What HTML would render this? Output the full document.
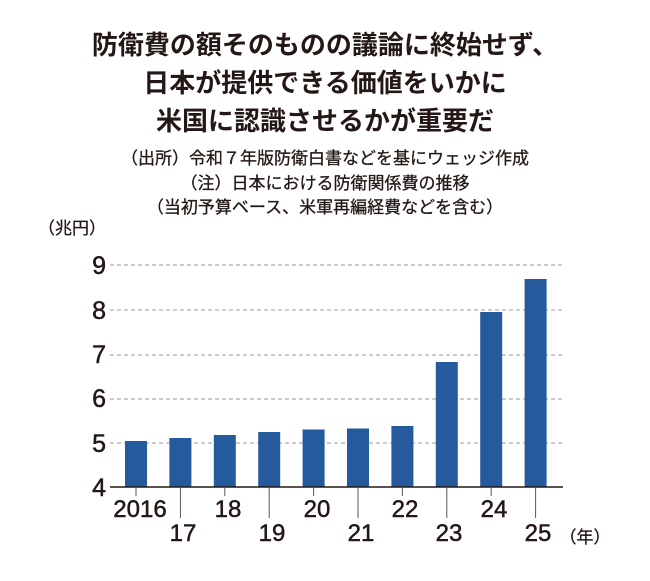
<!DOCTYPE html>
<html><head><meta charset="utf-8"><style>
body{margin:0;background:#fff;width:650px;height:576px;overflow:hidden;font-family:"Liberation Sans","Noto Sans CJK JP",sans-serif;color:#231815}
</style></head><body>
<svg width="650" height="576" xmlns="http://www.w3.org/2000/svg" style="font-family:'Liberation Sans','Noto Sans CJK JP',sans-serif">
<g fill="#231815" font-weight="bold" font-size="26" text-anchor="middle">
<text x="325" y="54">防衛費の額そのものの議論に終始せず、</text>
<text x="325" y="92">日本が提供できる価値をいかに</text>
<text x="325" y="130">米国に認識させるかが重要だ</text>
</g>
<g fill="#231815" font-size="17" text-anchor="middle" stroke="#231815" stroke-width="0.3">
<text x="325" y="164">（出所）令和７年版防衛白書などを基にウェッジ作成</text>
<text x="325" y="189">（注）日本における防衛関係費の推移</text>
<text x="325" y="213">（当初予算ベース、米軍再編経費などを含む）</text>
<text x="72" y="234">（兆円）</text>
<text x="585" y="543">（年）</text>
</g>
<g stroke="#999" stroke-dasharray="4,3" stroke-width="1">
<line x1="110" x2="562" y1="265" y2="265"/>
<line x1="110" x2="562" y1="310" y2="310"/>
<line x1="110" x2="562" y1="355" y2="355"/>
<line x1="110" x2="562" y1="399" y2="399"/>
<line x1="110" x2="562" y1="443" y2="443"/>
</g>
<g fill="#231815" font-size="25" text-anchor="end" stroke="#231815" stroke-width="0.5">
<text x="106" y="274">9</text><text x="106" y="319">8</text><text x="106" y="363">7</text>
<text x="106" y="407">6</text><text x="106" y="452">5</text><text x="106" y="496">4</text>
</g>
<g fill="#255a9c">
<rect x="125" y="441" width="22" height="46"/>
<rect x="169.4" y="438" width="22" height="49"/>
<rect x="213.8" y="435" width="22" height="52"/>
<rect x="258.2" y="432" width="22" height="55"/>
<rect x="302.6" y="429.5" width="22" height="57.5"/>
<rect x="347" y="428.5" width="22" height="58.5"/>
<rect x="391.4" y="426" width="22" height="61"/>
<rect x="435.8" y="362" width="22" height="125"/>
<rect x="480.2" y="312" width="22" height="175"/>
<rect x="524.6" y="279" width="22" height="208"/>
</g>
<line x1="110" x2="563" y1="487" y2="487" stroke="#231815" stroke-width="1.5"/>
<g stroke="#555" stroke-width="1">
<line x1="136" x2="136" y1="487" y2="496"/>
<line x1="180.4" x2="180.4" y1="487" y2="518"/>
<line x1="224.8" x2="224.8" y1="487" y2="496"/>
<line x1="269.2" x2="269.2" y1="487" y2="518"/>
<line x1="313.6" x2="313.6" y1="487" y2="496"/>
<line x1="358" x2="358" y1="487" y2="518"/>
<line x1="402.4" x2="402.4" y1="487" y2="496"/>
<line x1="446.8" x2="446.8" y1="487" y2="518"/>
<line x1="491.2" x2="491.2" y1="487" y2="496"/>
<line x1="535.6" x2="535.6" y1="487" y2="518"/>
</g>
<g fill="#231815" font-size="24" text-anchor="middle" stroke="#231815" stroke-width="0.5">
<text x="140" y="517">2016</text>
<text x="228" y="517">18</text>
<text x="317" y="517">20</text>
<text x="405" y="517">22</text>
<text x="494" y="517">24</text>
<text x="183" y="541">17</text>
<text x="272" y="541">19</text>
<text x="361" y="541">21</text>
<text x="449" y="541">23</text>
<text x="538" y="541">25</text>
</g>
</svg>
</body></html>
